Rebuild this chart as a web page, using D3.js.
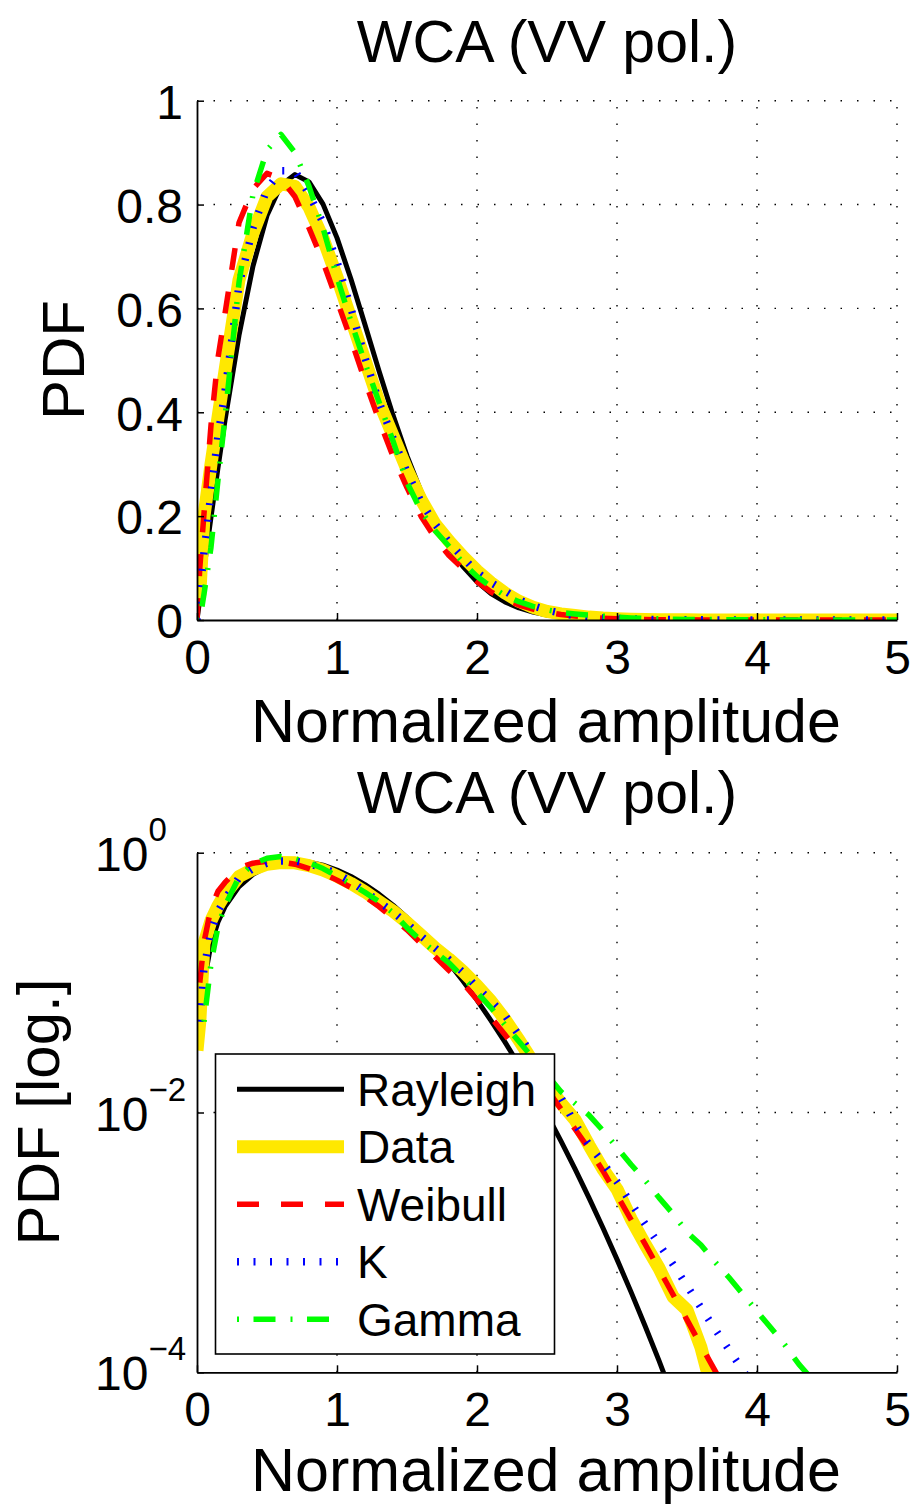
<!DOCTYPE html>
<html><head><meta charset="utf-8">
<script src="https://cdn.jsdelivr.net/npm/d3@7"></script>
<style>
body{margin:0;background:#fff;}
text{font-family:"Liberation Sans",Arial,Helvetica,sans-serif;fill:#000;}
</style></head>
<body><svg id="chart" width="914" height="1504"></svg>
<script>
// ---- data ----
const xs = [0,0.02,0.05,0.1,0.15,0.2,0.3,0.4,0.5,0.6,0.7,0.8,0.9,1.0,1.1,1.2,1.3,1.4,1.5,1.6,1.7,1.8,1.9,2.0,2.1,2.2,2.3,2.4,2.5,2.6,2.7,2.8,2.9,3.0,3.1,3.2,3.3,3.4,3.5,3.6,3.7,3.8,3.9,4.0,4.1,4.2,4.3,4.4,4.5,4.6,4.7,4.8,4.9,5.0];
const rayleigh = [0,0.04,0.0998,0.198,0.2933,0.3843,0.5483,0.6817,0.7788,0.8372,0.8577,0.8437,0.8009,0.7358,0.6563,0.5687,0.4797,0.3944,0.3162,0.2474,0.1891,0.1409,0.1028,0.0733,0.0510,0.0348,0.0232,0.0151,0.00964,0.00602,0.00368,0.0022,0.00129,0.00074,0.000416,0.000228,0.000123,0.000064,0.000033,0.000017,0.0000084,0.0000041,0.0000019,0.0000009,4e-7,1.8e-7,8e-8,3.4e-8,1.4e-8,6e-9,2.4e-9,9e-10,3.7e-10,1.4e-10];
const dataPdf = [0.03,0.05,0.20,0.30,0.39,0.48,0.655,0.745,0.815,0.84,0.835,0.795,0.735,0.66,0.58,0.50,0.42,0.355,0.29,0.232,0.185,0.152,0.122,0.095,0.072,0.052,0.036,0.0245,0.0165,0.0118,0.0088,0.0056,0.00366,0.00257,0.00152,0.00097,0.000634,0.000382,0.000302,0.000155,0.00006,0,0,0,0,0,0,0,0,0,0,0,0,0];
const weibull = [0,0.10,0.205,0.375,0.505,0.59,0.765,0.83,0.86,0.85,0.815,0.755,0.69,0.615,0.54,0.46,0.385,0.315,0.255,0.2,0.158,0.124,0.099,0.074,0.054,0.0397,0.0288,0.0209,0.0151,0.01064,0.00746,0.00524,0.00355,0.00231,0.0015,0.000975,0.000622,0.000397,0.000253,0.000161,0.000103,6.6e-5,4.2e-5,2.6e-5,1.6e-5,1e-5,6e-6,3.6e-6,2.2e-6,1.3e-6,7.5e-7,4.4e-7,2.6e-7,1.5e-7];
const kDist = [0,0.05,0.13,0.245,0.355,0.44,0.645,0.755,0.83,0.865,0.865,0.82,0.765,0.69,0.60,0.505,0.42,0.35,0.285,0.228,0.185,0.150,0.12,0.092,0.072,0.056,0.0393,0.0274,0.0191,0.013,0.00818,0.00564,0.00409,0.00293,0.00201,0.00139,0.00097,0.000677,0.000463,0.000314,0.000215,0.000149,0.000103,7.1e-5,4.9e-5,3.4e-5,2.3e-5,1.6e-5,1.1e-5,7.6e-6,5.2e-6,3.6e-6,2.5e-6,1.7e-6];
const gammaDist = [0,0,0.05,0.14,0.27,0.39,0.65,0.82,0.905,0.935,0.90,0.835,0.755,0.66,0.575,0.495,0.42,0.345,0.265,0.21,0.172,0.142,0.11,0.084,0.064,0.0472,0.0352,0.0262,0.0195,0.01445,0.01175,0.00955,0.00724,0.00537,0.00398,0.00302,0.00221,0.00166,0.0012,0.000955,0.000708,0.000537,0.000398,0.000295,0.000219,0.000162,0.000115,8.7e-5,6.5e-5,4.9e-5,3.7e-5,2.7e-5,2.1e-5,1.6e-5];
const seriesNames = ["Rayleigh","Data","Weibull","K","Gamma"];
const xTicks = [0,1,2,3,4,5];
const yTicksLin = [0,0.2,0.4,0.6,0.8,1];
const yTickLabelsLin = ["0","0.2","0.4","0.6","0.8","1"];
const yTicksLog = [1e-4,1e-2,1];
const yTickExp = ["\u22124","\u22122","0"];
const titleText = "WCA (VV pol.)";
const xLabelText = "Normalized amplitude";
const yLabelTop = "PDF";
const yLabelBottom = "PDF [log.]";

// ---- styles ----
const styles = [
  {vals: rayleigh, color:"#000000", w:5, dash:null},
  {vals: dataPdf, color:"#FFE800", w:13, dash:null},
  {vals: weibull, color:"#FF0000", w:5.5, dash:"22,22"},
  {vals: kDist, color:"#0000FF", w:7.5, dash:"2,14.5"},
  {vals: gammaDist, color:"#00FF00", w:5.5, dash:"2,14.5,22,15"}
];

const svg = d3.select("#chart");
svg.append("rect").attr("width",914).attr("height",1504).attr("fill","#fff");

const L = 197, R = 897;
const x = d3.scaleLinear().domain([0,5]).range([L,R]);
const yTop = d3.scaleLinear().domain([0,1]).range([620,100.7]);
const yBot = d3.scaleLog().domain([1e-4,1]).range([1372.3,852.7]);

function panel(yS, isLog, id, top, bottom){
  const g = svg.append("g");
  // grid
  const grid = g.append("g").attr("stroke","#000").attr("stroke-width",1.4).attr("stroke-dasharray","1.5,15");
  xTicks.forEach(t => { if(t>0) grid.append("line").attr("x1",x(t)).attr("x2",x(t)).attr("y1",bottom).attr("y2",top); });
  (isLog?yTicksLog:yTicksLin).forEach(t => { if(yS(t) < bottom-1) grid.append("line").attr("x1",L).attr("x2",R).attr("y1",yS(t)).attr("y2",yS(t)); });
  // clip
  svg.append("clipPath").attr("id",id).append("rect").attr("x",L).attr("y",top).attr("width",R-L).attr("height",bottom-top);
  const lines = g.append("g").attr("clip-path",`url(#${id})`);
  styles.forEach(s => {
    const line = d3.line()
      .defined((d,i) => !isLog || s.vals[i] > 0)
      .x((d,i) => x(xs[i]))
      .y((d,i) => yS(s.vals[i]));
    lines.append("path").datum(xs).attr("d",line)
      .attr("fill","none").attr("stroke",s.color).attr("stroke-width",s.w)
      .attr("stroke-linejoin","round")
      .attr("stroke-dasharray",s.dash);
  });
  // x axis
  const xa = g.append("g").attr("transform",`translate(0,${bottom})`)
    .call(d3.axisBottom(x).tickValues(xTicks).tickSizeInner(-7).tickSizeOuter(0).tickPadding(20).tickFormat(d3.format("d")));
  xa.select(".domain").attr("stroke-width",1.8);
  xa.selectAll(".tick line").attr("stroke-width",1.5);
  xa.selectAll("text").attr("font-size",48).attr("font-family","Liberation Sans, Arial, sans-serif");
  // y axis
  const ya = g.append("g").attr("transform",`translate(${L},0)`);
  if(!isLog){
    ya.call(d3.axisLeft(yS).tickValues(yTicksLin).tickSizeInner(-7).tickSizeOuter(0).tickPadding(14).tickFormat((d,i)=>yTickLabelsLin[i]));
    ya.selectAll("text").attr("font-size",48).attr("dy","0.37em").attr("font-family","Liberation Sans, Arial, sans-serif");
  } else {
    ya.call(d3.axisLeft(yS).tickValues(yTicksLog).tickSizeInner(-7).tickSizeOuter(0).tickFormat(""));
    yTicksLog.forEach((t,i) => {
      const tx = g.append("text").attr("x",95).attr("y",yS(t)+18).attr("font-size",48);
      tx.append("tspan").text("10");
      tx.append("tspan").attr("font-size",33).attr("dy",-30).text(yTickExp[i]);
    });
  }
  ya.select(".domain").attr("stroke-width",1.8);
  ya.selectAll(".tick line").attr("stroke-width",1.5);
  return g;
}

panel(yTop,false,"clipTop",100.7,620);
panel(yBot,true,"clipBot",852.7,1372.3);

// titles & labels
[62,813].forEach(yy =>
  svg.append("text").attr("x",547).attr("y",yy).attr("text-anchor","middle").attr("font-size",59).text(titleText));
[742,1491].forEach(yy =>
  svg.append("text").attr("x",546).attr("y",yy).attr("text-anchor","middle").attr("font-size",61).text(xLabelText));
svg.append("text").attr("transform","translate(84,360) rotate(-90)").attr("text-anchor","middle").attr("font-size",60).text(yLabelTop);
svg.append("text").attr("transform","translate(59,1112) rotate(-90)").attr("text-anchor","middle").attr("font-size",60).text(yLabelBottom);

// legend
const lg = svg.append("g");
lg.append("rect").attr("x",215.5).attr("y",1054).attr("width",339).attr("height",300)
  .attr("fill","#fff").attr("stroke","#000").attr("stroke-width",1.6);
styles.forEach((s,i) => {
  const yy = 1089.3 + 57.5*i;
  lg.append("line").attr("x1",237).attr("x2",344).attr("y1",yy).attr("y2",yy)
    .attr("stroke",s.color).attr("stroke-width",s.w).attr("stroke-dasharray",s.dash);
  lg.append("text").attr("x",357).attr("y",yy+16.5).attr("font-size",46).text(seriesNames[i]);
});
</script></body></html>
